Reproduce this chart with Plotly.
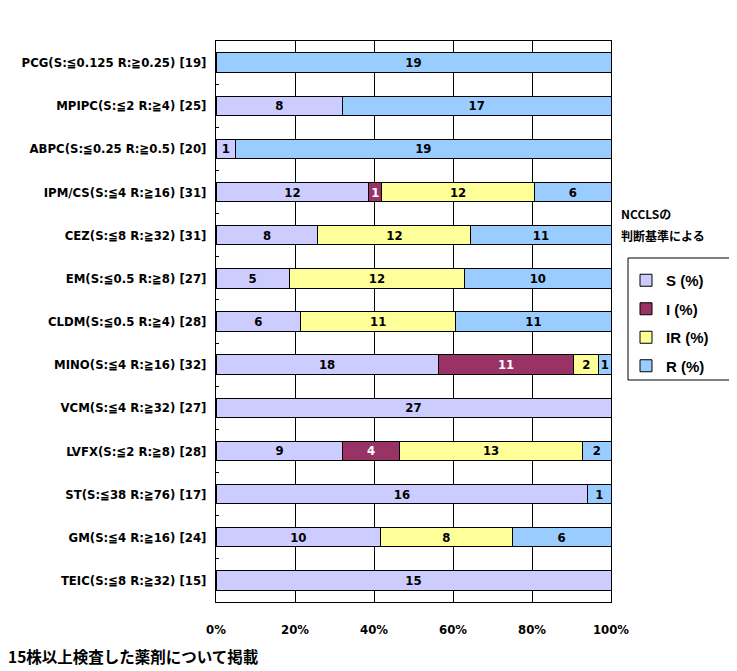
import plotly.graph_objects as go

drugs = [
    "PCG(S:≦0.125 R:≧0.25) [19]",
    "MPIPC(S:≦2 R:≧4) [25]",
    "ABPC(S:≦0.25 R:≧0.5) [20]",
    "IPM/CS(S:≦4 R:≧16) [31]",
    "CEZ(S:≦8 R:≧32) [31]",
    "EM(S:≦0.5 R:≧8) [27]",
    "CLDM(S:≦0.5 R:≧4) [28]",
    "MINO(S:≦4 R:≧16) [32]",
    "VCM(S:≦4 R:≧32) [27]",
    "LVFX(S:≦2 R:≧8) [28]",
    "ST(S:≦38 R:≧76) [17]",
    "GM(S:≦4 R:≧16) [24]",
    "TEIC(S:≦8 R:≧32) [15]",
]
s_vals = [0, 8, 1, 12, 8, 5, 6, 18, 27, 9, 16, 10, 15]
i_vals = [0, 0, 0, 1, 0, 0, 0, 11, 0, 4, 0, 0, 0]
ir_vals = [0, 0, 0, 12, 12, 12, 11, 2, 0, 13, 0, 8, 0]
r_vals = [19, 17, 19, 6, 11, 10, 11, 1, 0, 2, 1, 6, 0]

series_names = ["S (%)", "I (%)", "IR (%)", "R (%)"]
series_vals = [s_vals, i_vals, ir_vals, r_vals]
colors = ["#CCCCFF", "#993366", "#FFFF99", "#99CCFF"]
text_colors = ["black", "white", "black", "black"]
x_ticks = [0, 20, 40, 60, 80, 100]
x_tick_labels = ["0%", "20%", "40%", "60%", "80%", "100%"]

# page offset (default body margin) in the browser
OFF = 8
W, H = 737 - OFF, 671 - OFF
# plot area in page pixels: x 216..611, y 41..602
ML, MT = 216 - OFF, 41 - OFF
PW, PH = 611 - 216, 602 - 41
MR, MB = W - ML - PW, H - MT - PH

BAR_FONT = "DejaVu Sans Condensed, DejaVu Sans, sans-serif"
JP_FONT = "Noto Sans CJK JP, sans-serif"


def px_x(x):
    # page pixel x -> paper fraction
    return (x - 216) / PW


def px_y(y):
    # page pixel y -> paper fraction
    return (602 - y) / PH


fig = go.Figure()
for name, vals, col, tcol in zip(series_names, series_vals, colors, text_colors):
    fig.add_trace(go.Bar(
        y=drugs, x=vals, name=name, orientation="h",
        marker=dict(color=col, line=dict(color="black", width=1)),
        text=[str(v) if v else "" for v in vals],
        textposition="inside", insidetextanchor="middle", textangle=0,
        textfont=dict(family=BAR_FONT, size=13, color=tcol, weight="bold"),
        legendgroup=name,
        hoverinfo="skip",
    ))

fig.update_layout(
    barmode="stack", barnorm="percent", bargap=0.55,
    width=W, height=H,
    margin=dict(l=ML, r=MR, t=MT, b=MB, autoexpand=False),
    plot_bgcolor="white", paper_bgcolor="white",
    uniformtext=dict(minsize=12, mode="show"),
    showlegend=True,
    legend=dict(
        x=px_x(626), xanchor="left", y=px_y(264), yanchor="top",
        xref="paper", yref="paper",
        borderwidth=0, bgcolor="rgba(0,0,0,0)",
        traceorder="grouped", tracegroupgap=6,
        font=dict(family="Liberation Sans, Arial, sans-serif", size=15, color="black", weight="bold"),
        itemwidth=30,
    ),
    shapes=[
        dict(type="rect", xref="paper", yref="paper",
             x0=px_x(628), x1=px_x(731), y0=px_y(258), y1=px_y(380),
             line=dict(color="black", width=1), fillcolor="rgba(0,0,0,0)", layer="below"),
    ],
    xaxis=dict(
        range=[0, 100], tickvals=x_ticks, ticktext=x_tick_labels,
        showgrid=True, gridcolor="black", gridwidth=1,
        showline=True, linecolor="black", linewidth=1, mirror=True,
        ticks="", zeroline=False, ticklabelstandoff=15, automargin=False,
        tickfont=dict(family=BAR_FONT, size=13, color="black", weight="bold"),
    ),
    yaxis=dict(
        autorange="reversed", type="category",
        showline=True, linecolor="black", linewidth=1, mirror=True,
        ticks="inside", ticklen=3, tickcolor="black", tickson="boundaries",
        showgrid=False, ticklabelstandoff=6, automargin=False,
        tickfont=dict(family=BAR_FONT, size=13, color="black", weight="bold"),
    ),
    annotations=[
        dict(text="NCCLSの", x=px_x(619), y=px_y(213), xref="paper", yref="paper",
             showarrow=False, xanchor="left", yanchor="middle",
             font=dict(family=JP_FONT, size=12, color="black", weight="bold")),
        dict(text="判断基準による", x=px_x(619), y=px_y(236), xref="paper", yref="paper",
             showarrow=False, xanchor="left", yanchor="middle",
             font=dict(family=JP_FONT, size=12, color="black", weight="bold")),
        dict(text="15株以上検査した薬剤について掲載", x=px_x(6), y=px_y(656), xref="paper", yref="paper",
             showarrow=False, xanchor="left", yanchor="middle",
             font=dict(family=JP_FONT, size=15.5, color="black", weight="bold")),
    ],
)

fig.write_html("out.html")
